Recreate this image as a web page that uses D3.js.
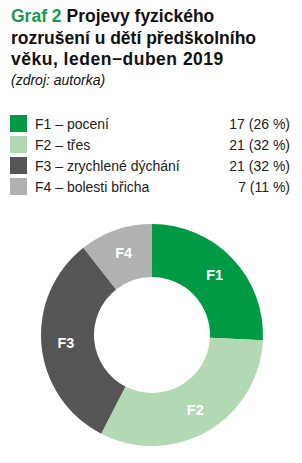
<!DOCTYPE html>
<meta charset="utf-8">
<style>
body { margin: 0; background: #fff; }
text { font-family: "Liberation Sans", Arial, sans-serif; }
</style>
<script src="https://d3js.org/d3.v7.min.js"></script>
<div id="chart"></div>
<script>
// data
var codes = ["F1", "F2", "F3", "F4"];
var names = ["pocení", "třes", "zrychlené dýchání", "bolesti břicha"];
var counts = [17, 21, 21, 7];
var shares = ["26 %", "32 %", "32 %", "11 %"];
var colors = ["#009a44", "#b2d9b4", "#555555", "#b1b1b1"];

var width = 302, height = 463;

var svg = d3.select("#chart")
  .append("svg")
    .attr("width", width)
    .attr("height", height);

// title
var title = svg.append("text")
  .attr("x", 11)
  .attr("y", 22)
  .style("font-size", "17.5px")
  .style("font-weight", "bold");
title.append("tspan").attr("fill", "#1a9a4a").text("Graf 2 ");
title.append("tspan").attr("fill", "#111").text("Projevy fyzického");
svg.append("text").attr("x", 11).attr("y", 44)
  .style("font-size", "17.5px").style("font-weight", "bold").attr("fill", "#111")
  .text("rozrušení u dětí předškolního");
svg.append("text").attr("x", 11).attr("y", 65)
  .style("font-size", "17.5px").style("font-weight", "bold").attr("fill", "#111")
  .style("letter-spacing", "0.5px")
  .text("věku, leden\u2212duben 2019");
svg.append("text").attr("x", 11).attr("y", 85)
  .style("font-size", "14px").style("font-style", "italic").attr("fill", "#111")
  .text("(zdroj: autorka)");

// legend
var rowY = d3.scaleBand().domain(codes).range([114, 198]);
var legend = svg.selectAll(".leg")
  .data(codes)
  .enter()
  .append("g")
    .attr("transform", function(d) { return "translate(0," + rowY(d) + ")"; });
legend.append("rect")
  .attr("x", 10).attr("y", 1)
  .attr("width", 17).attr("height", rowY.bandwidth() - 4)
  .attr("fill", function(d, i) { return colors[i]; });
legend.append("text")
  .attr("x", 35).attr("y", 15)
  .style("font-size", "14px").attr("fill", "#222")
  .text(function(d, i) { return d + " \u2013 " + names[i]; });
legend.append("text")
  .attr("x", 290).attr("y", 15)
  .attr("text-anchor", "end")
  .style("font-size", "14px").attr("fill", "#222")
  .text(function(d, i) { return counts[i] + " (" + shares[i] + ")"; });

// donut
var cx = 152, cy = 335, R = 111, r = 58;
var pie = d3.pie().sort(null).value(function(d) { return d; });
var arc = d3.arc().innerRadius(r).outerRadius(R);
var labelArc = d3.arc().innerRadius((R + r) / 2 + 2).outerRadius((R + r) / 2 + 2);

var g = svg.append("g").attr("transform", "translate(" + cx + "," + cy + ")");
var arcs = pie(counts);
g.selectAll("path")
  .data(arcs)
  .enter()
  .append("path")
    .attr("d", arc)
    .attr("fill", function(d, i) { return colors[i]; });
g.selectAll(".lbl")
  .data(arcs)
  .enter()
  .append("text")
    .attr("transform", function(d) { return "translate(" + labelArc.centroid(d) + ")"; })
    .attr("text-anchor", "middle")
    .attr("dy", "0.35em")
    .style("font-size", "14.5px")
    .style("font-weight", "bold")
    .attr("fill", "#fff")
    .text(function(d, i) { return codes[i]; });
</script>
